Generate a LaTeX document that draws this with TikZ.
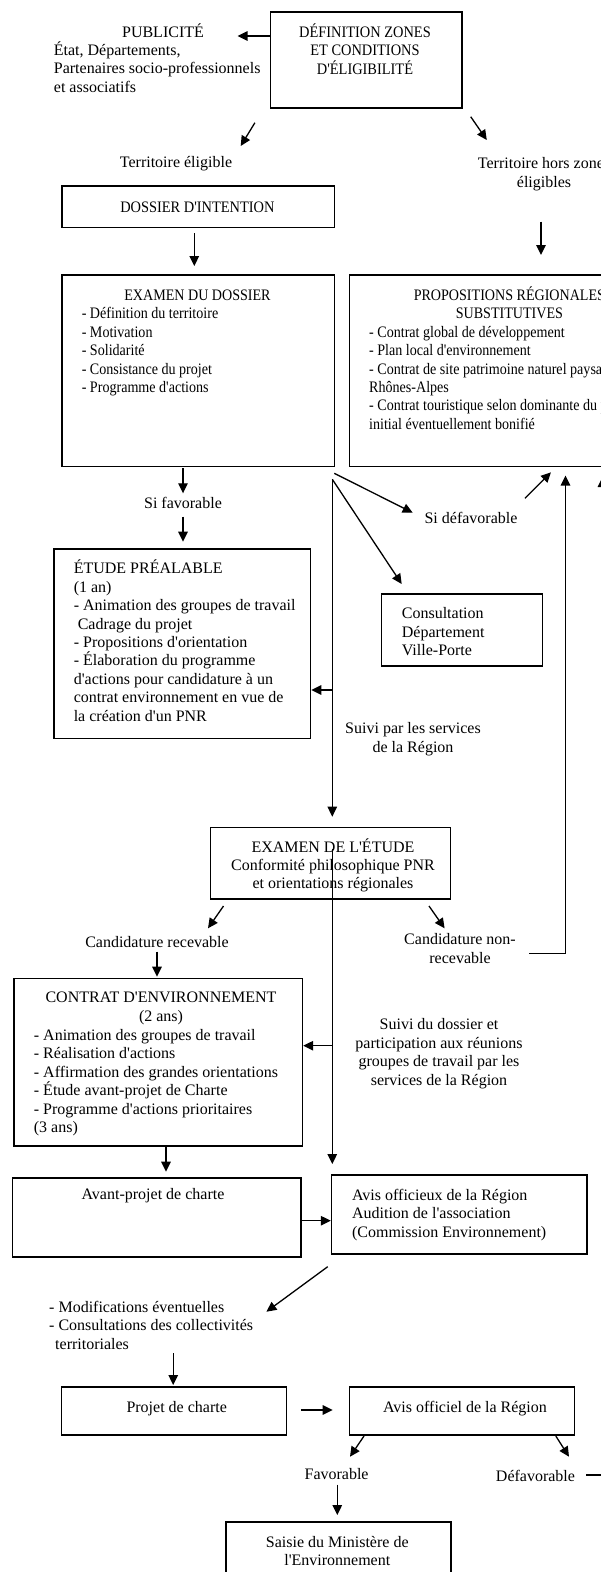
\documentclass[tikz,border=0pt]{standalone}
\usepackage{fontspec}
\setmainfont{Liberation Serif}[Ligatures=TeXOff]
\usetikzlibrary{arrows.meta}

\begin{document}
\begin{tikzpicture}[
    x=1pt, y=-1pt,
    font=\fontsize{16}{18.4}\selectfont,
    box/.style={draw, line width=1.6pt, inner sep=0pt, anchor=north west},
    txt/.style={inner sep=0pt, align=left, anchor=base west},
    ctxt/.style={inner sep=0pt, align=center, anchor=base},
    arr/.style={line width=1.3pt, -{Triangle[length=10pt,width=9.5pt]}},
]

% Page (texts are placed by the baseline of their last line)
\useasboundingbox (0,0) rectangle (601,1572);
\clip (0,0) rectangle (601,1572);

% Definition and publicity
\node[box, minimum width=191.5pt, minimum height=96pt] (def) at (269.5,11) {};
\node[ctxt, xscale=0.9] (deftxt) at (365,74.2) {DÉFINITION ZONES\\ET CONDITIONS\\D'ÉLIGIBILITÉ};
\node[ctxt] (pubtitle) at (163,37) {PUBLICITÉ};
\node[txt] (pub) at (53.7,92.2) {État, Départements,\\Partenaires socio-professionnels\\et associatifs};
\coordinate (pubend) at (237.6,36);
\draw[arr] (def.west |- pubend) -- (pubend);

% Eligible or not
\node[ctxt] (elig) at (176,167.5) {Territoire éligible};
\node[ctxt] (horz) at (544,187.2) {Territoire hors zones\\éligibles};
\coordinate (e1) at (254.9,122.7); \coordinate (e2) at (240.7,146);
\draw[arr] (e1) -- (e2);
\coordinate (h1) at (470.7,116.7); \coordinate (h2) at (486.8,140);
\draw[arr] (h1) -- (h2);

% Dossier d'intention
\node[box, minimum width=272.2pt, minimum height=41.7pt] (dos) at (61.3,185) {};
\node[ctxt, xscale=0.9] (dostxt) at (197.4,212) {DOSSIER D'INTENTION};
\coordinate (d1) at (194.3,233); \coordinate (d2) at (194.3,266);
\draw[arr] (d1) -- (d2);
\coordinate (r1) at (541,221.7); \coordinate (r2) at (541,255);
\draw[arr] (r1) -- (r2);

% Examen du dossier
\node[box, minimum width=272.2pt, minimum height=191.4pt] (exd) at (61.3,274.3) {};
\node[ctxt, xscale=0.88] (exdtitle) at (197.5,300.3) {EXAMEN DU DOSSIER};
\node[txt, xscale=0.88] (exdlist) at (81.6,392.4) {- Définition du territoire\\- Motivation\\- Solidarité\\- Consistance du projet\\- Programme d'actions};

% Propositions regionales
\node[box, minimum width=321.2pt, minimum height=191.4pt] (prop) at (348.8,274.3) {};
\node[ctxt, xscale=0.88] (proptitle) at (509.4,318.7) {PROPOSITIONS RÉGIONALES\\SUBSTITUTIVES};
\node[txt, xscale=0.88] (proplist) at (369,429.2) {- Contrat global de développement\\- Plan local d'environnement\\- Contrat de site patrimoine naturel paysager\\Rhônes-Alpes\\- Contrat touristique selon dominante du projet\\initial éventuellement bonifié};

% Favorable or not
\coordinate (f1) at (183,468.3); \coordinate (f2) at (183,493.3);
\draw[arr] (f1) -- (f2);
\node[ctxt] (fav) at (183,508.5) {Si favorable};
\coordinate (f3) at (183,516.7); \coordinate (f4) at (183,541.7);
\draw[arr] (f3) -- (f4);
\node[ctxt] (defav) at (471,523) {Si défavorable};
\coordinate (s0) at (334.3,473.3); \coordinate (s1) at (412.7,512.7);
\draw[arr] (s0) -- (s1);
\coordinate (c0) at (332.3,479.3); \coordinate (c1) at (401.7,584);
\draw[arr] (c0) -- (c1);
\coordinate (u0) at (525,498.3); \coordinate (u1) at (551,472.3);
\draw[arr] (u0) -- (u1);

% Etude prealable
\node[box, minimum width=256.8pt, minimum height=189.4pt] (etu) at (52.9,548.3) {};
\node[txt] (etutxt) at (73.6,721) {ÉTUDE PRÉALABLE\\(1 an)\\- Animation des groupes de travail\\\hspace*{4pt}Cadrage du projet\\- Propositions d'orientation\\- Élaboration du programme\\d'actions pour candidature à un\\contrat environnement en vue de\\la création d'un PNR};

% Consultation
\node[box, minimum width=161pt, minimum height=71.7pt] (cons) at (380.6,593.3) {};
\node[txt] (constxt) at (401.7,655.6) {Consultation\\Département\\Ville-Porte};

% Suivi (1)
\coordinate (v0) at (332.3,479.3); \coordinate (v1) at (332.3,816.7);
\draw[arr] (v0) -- (v1);
\coordinate (b1) at (332.3,690);
\draw[arr] (b1) -- (b1 -| etu.east);
\node[ctxt] (suivi1) at (413,752.2) {Suivi par les services\\de la Région};

% Examen de l'etude
\node[box, minimum width=239.9pt, minimum height=71.6pt] (exe) at (209.7,826.7) {};
\node[ctxt] (exetxt) at (333,888.8) {EXAMEN DE L'ÉTUDE\\Conformité philosophique PNR\\et orientations régionales};
\coordinate (w0) at (332.3,849); \coordinate (w1) at (332.3,1164);
\draw[arr] (w0) -- (w1);

% Candidature
\coordinate (k1) at (223.5,906); \coordinate (k2) at (208,928.3);
\draw[arr] (k1) -- (k2);
\node[ctxt] (recv) at (157,947.8) {Candidature recevable};
\coordinate (n1) at (429,906); \coordinate (n2) at (444.6,928.3);
\draw[arr] (n1) -- (n2);
\node[ctxt] (nonrecv) at (460,963.2) {Candidature non-\\recevable};
\coordinate (n3) at (529,953.3); \coordinate (n4) at (565.5,475.5);
\draw[arr] (n3) -- (n3 -| n4) -- (n4);
\coordinate (k3) at (157,951.7); \coordinate (k4) at (157,976.7);
\draw[arr] (k3) -- (k4);

% Contrat d'environnement
\node[box, minimum width=288.2pt, minimum height=167.3pt] (con) at (13.4,977.7) {};
\node[ctxt] (contitle) at (161,1021.2) {CONTRAT D'ENVIRONNEMENT\\(2 ans)};
\node[txt] (conlist) at (33.7,1132.5) {- Animation des groupes de travail\\- Réalisation d'actions\\- Affirmation des grandes orientations\\- Étude avant-projet de Charte\\- Programme d'actions prioritaires\\(3 ans)};
\coordinate (b2) at (332.3,1045.7);
\draw[arr] (b2) -- (b2 -| con.east);
\node[ctxt] (suivi2) at (439,1085) {Suivi du dossier et\\participation aux réunions\\groupes de travail par les\\services de la Région};

% Avant-projet et avis officieux
\coordinate (a1) at (166,1146.7); \coordinate (a2) at (166,1171.7);
\draw[arr] (a1) -- (a2);
\node[box, minimum width=288.5pt, minimum height=78.7pt] (avp) at (11.5,1177.3) {};
\node[ctxt] (avptxt) at (153,1199.5) {Avant-projet de charte};
\node[box, minimum width=255.6pt, minimum height=79.3pt] (avo) at (330.8,1174) {};
\node[txt] (avotxt) at (351.9,1237.3) {Avis officieux de la Région\\Audition de l'association\\(Commission Environnement)};
\coordinate (a3) at (300,1220.7);
\draw[arr] (avp.east |- a3) -- (avo.west |- a3);
\coordinate (m1) at (327.7,1266.7); \coordinate (m2) at (266.4,1311.7);
\draw[arr] (m1) -- (m2);
\node[txt] (modif) at (49,1349) {- Modifications éventuelles\\- Consultations des collectivités\\\hspace*{6pt}territoriales};

% Projet de charte et avis officiel
\coordinate (m3) at (173.2,1353.3); \coordinate (m4) at (173.2,1385);
\draw[arr] (m3) -- (m4);
\node[box, minimum width=224.9pt, minimum height=48.3pt] (pro) at (60.6,1386) {};
\node[ctxt] (protxt) at (176.7,1412.8) {Projet de charte};
\node[box, minimum width=225pt, minimum height=48.3pt] (aof) at (348.8,1386) {};
\node[ctxt] (aoftxt) at (465,1412.8) {Avis officiel de la Région};
\coordinate (g1) at (300.9,1410); \coordinate (g2) at (332.7,1410);
\draw[arr] (g1) -- (g2);
\coordinate (g3) at (364,1436); \coordinate (g4) at (350,1456.7);
\draw[arr] (g3) -- (g4);
\coordinate (g5) at (555.8,1436); \coordinate (g6) at (569,1456.7);
\draw[arr] (g5) -- (g6);
\node[ctxt] (favo) at (336.6,1479.5) {Favorable};
\node[ctxt] (defavo) at (535.5,1481) {Défavorable};
\coordinate (g7) at (586.4,1475); \coordinate (g8) at (602.5,477);
\draw[arr] (g7) -- (g7 -| g8) -- (g8);
\coordinate (g9) at (337.3,1484.5); \coordinate (g10) at (337.3,1515);
\draw[arr] (g9) -- (g10);

% Saisie du ministere
\node[box, minimum width=225.4pt, minimum height=60pt] (sai) at (225,1521) {};
\node[ctxt] (saitxt) at (337.3,1565.6) {Saisie du Ministère de\\l'Environnement};

\end{tikzpicture}
\end{document}
